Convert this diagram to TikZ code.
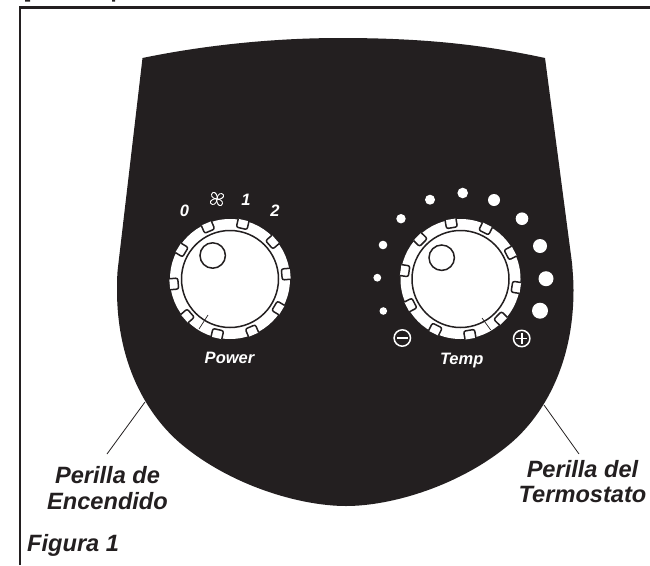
\documentclass[tikz,border=0pt]{standalone}
\usepackage{fontspec}
\setmainfont{Liberation Sans}
\definecolor{ink}{HTML}{231F20}
\tikzset{
  lbl/.style={font=\bfseries\itshape\fontsize{23.6}{25.5}\selectfont,text=ink,align=center,inner sep=0pt},
  dial/.style={font=\bfseries\itshape\fontsize{16.5}{18}\selectfont,text=white,inner sep=0pt},
  leader/.style={ink,line width=0.8pt},
  knobline/.style={ink,line width=1.5pt}
}
\newcommand{\knob}[3]{% cx cy startangle
  \fill[white] (#1,#2) circle[radius=60];
  \foreach \k in {0,...,9}{
    \pgfmathsetmacro\a{#3+\k*36}
    \begin{scope}[shift={(#1,#2)},rotate=\a]
      \draw[knobline,fill=white,rounded corners=2pt] (60.5,-5.5) -- (52,-5.5) -- (52,5.5) -- (60.5,5.5);
    \end{scope}
  }
  \draw[knobline,fill=white] (#1,#2) circle[radius=48.5];
}
\begin{document}
\begin{tikzpicture}[x=1pt,y=-1pt]
\useasboundingbox (0,0) rectangle (650,565);
\fill[white] (0,0) rectangle (650,565);
\draw[ink,line width=2.6pt] (20,565) -- (20,7.5) -- (650,7.5);
\fill[ink] (25,0) rectangle (30,1.5) (112,0) rectangle (115,1.5);
\fill[ink] (142.5,58) .. controls (210,44) and (280,38) .. (340,38) .. controls (420,38) and (480,44) .. (545,58)
  -- (572,263) .. controls (573,275) and (573.5,282) .. (573.5,290)
  .. controls (573.5,370) and (539,419) .. (511,443)
  .. controls (461,485.5) and (392,506) .. (346,506)
  .. controls (300,506) and (230,485.5) .. (180,443)
  .. controls (152,419) and (117,370) .. (117,290)
  .. controls (117,282) and (117,275) .. (118,267) -- cycle;
\knob{230}{279}{5}
\draw[knobline,fill=white] (212.7,255.5) circle[radius=12.7];
\draw[ink,line width=0.7pt] (199,329) -- (208,315);
\knob{460.5}{279}{27.5}
\draw[knobline,fill=white] (441.7,257.7) circle[radius=12.7];
\draw[ink,line width=0.7pt] (490.7,330) -- (482,318);
\foreach \x/\y/\r in {383.3/311/3.8,377.3/277.7/3.9,383/245/4.3,401/218.7/4.7,430/199.7/5,462.7/193/5.3,494/200/6,522/218.7/6.3,540/246/7,546/278.7/7.5,540/310.7/8}
  \fill[white] (\x,\y) circle[radius=\r];
\node[dial] (n0) at (184.5,211) {0};
\node[dial] (n1) at (246,199.5) {1};
\node[dial] (n2) at (275,210.5) {2};
\node[dial] (pw) at (229.5,357.5) {Power};
\node[dial,anchor=base] (tp) at (461.7,364.5) {Temp};
\draw[white,line width=1.5pt] (402.3,338) circle[radius=8.2];
\draw[white,line width=2.6pt] (397,338) -- (407.6,338);
\draw[white,line width=1.5pt] (521.7,338.5) circle[radius=8.2];
\draw[white,line width=1.6pt] (516.4,338.5) -- (527,338.5) (521.7,333.2) -- (521.7,343.8);
\foreach \a in {20,110,200,290}{
  \begin{scope}[shift={(217,199)},rotate=\a]
    \draw[white,line width=0.9pt] (0,0) .. controls (2,-5) and (7,-5) .. (7.5,-1.5) .. controls (7.5,1) and (3,2) .. (0,0);
  \end{scope}
}
\coordinate (la) at (145,402);
\coordinate (lb) at (107,454);
\coordinate (ra) at (544,405);
\coordinate (rb) at (579,454);
\draw[leader] (la) -- (lb);
\draw[leader] (ra) -- (rb);
\node[lbl] (perA) at (107.5,488) {Perilla de\\Encendido};
\node[lbl] (perB) at (582.5,481.5) {Perilla del\\Termostato};
\node[lbl,anchor=base west] (fig) at (27,551) {Figura 1};
\end{tikzpicture}
\end{document}
